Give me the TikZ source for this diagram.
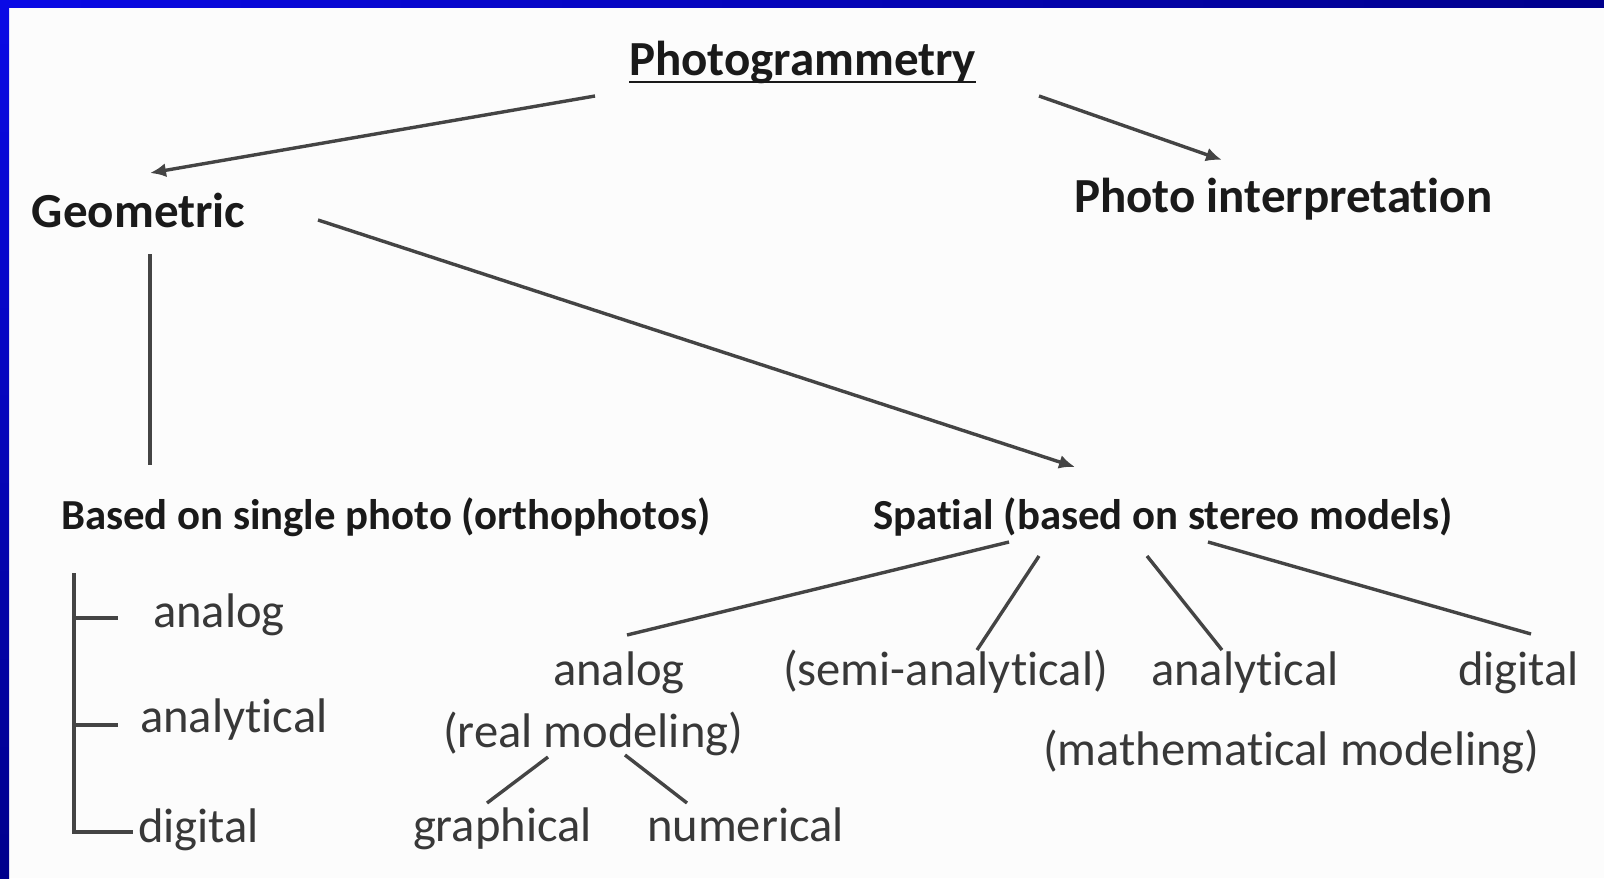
\documentclass[tikz,border=0pt]{standalone}
\usepackage{fontspec}
\setmainfont{Carlito}[Ligatures=NoCommon]
\usetikzlibrary{arrows.meta}
\definecolor{bg}{HTML}{FCFCFC}
\definecolor{bblue}{HTML}{0A0AE6}
\definecolor{nblue}{HTML}{00008C}
\definecolor{tdark}{HTML}{1A1A1A}
\definecolor{tgrey}{HTML}{383838}
\definecolor{lgrey}{HTML}{444444}
\tikzset{
  lbl/.style={anchor=base west, inner sep=0pt, outer sep=0pt},
  topl/.style={lbl, text=tdark, font=\fontsize{24.5}{28}\selectfont\bfseries},
  subl/.style={lbl, text=tdark, font=\fontsize{21.4}{24}\selectfont\bfseries},
  item/.style={lbl, text=tgrey, font=\fontsize{24.3}{28}\selectfont},
  conn/.style={draw=lgrey, line width=1.7pt},
  arr/.style={conn, -{Latex[length=8pt,width=7pt]}},
}
\begin{document}
\begin{tikzpicture}[x=0.5pt,y=-0.5pt]
\useasboundingbox (0,0) rectangle (1604,878);
\fill[bg] (0,0) rectangle (1604,878);
\shade[top color=bblue, bottom color=nblue] (0,0) rectangle (9,878);
\shade[left color=bblue, right color=nblue] (0,0) rectangle (1604,7);

\node[topl] (pg) at (629,75) {Photogrammetry};
\node[topl] (geo) at (32,227) {Geometric};
\node[topl] (pi) at (1074,212) {Photo interpretation};
\node[subl] (single) at (61,529) {Based on single photo (orthophotos)};
\node[subl] (spat) at (873,529) {Spatial (based on stereo models)};
\node[item] (la) at (153,627) {analog};
\node[item] (lan) at (140,732) {analytical};
\node[item] (ld) at (138,842) {digital};
\node[item] (ra) at (553,685) {analog};
\node[item] (rm) at (443,747) {(real modeling)};
\node[item] (semi) at (783,685) {(semi-analytical)};
\node[item] (ran) at (1151,685) {analytical};
\node[item] (rd) at (1458,685) {digital};
\node[item] (mm) at (1043,765) {(mathematical modeling)};
\node[item] (gr) at (413,841) {graphical};
\node[item] (nu) at (647,841) {numerical};

% underline of title
\draw[draw=tdark, line width=1.3pt] ([shift={(0,7)}]pg.base west) -- ([shift={(0,7)}]pg.base east);

% arrows
\draw[arr] ([shift={(-34,21)}]pg.base west) -- ([shift={(118,-54)}]geo.base west);
\draw[arr] ([shift={(410,21)}]pg.base west) -- ([shift={(148,-52)}]pi.base west);
\draw[arr] ([shift={(286,-7)}]geo.base west) -- ([shift={(202,-62)}]spat.base west);
\draw[conn] ([shift={(118,27)}]geo.base west) -- ([shift={(89,-64)}]single.base west);

% bracket
\draw[conn] ([shift={(13,44)}]single.base west) -- ([shift={(-64,-10)}]ld.base west) -- ([shift={(-5,-10)}]ld.base west);
\draw[conn] ([shift={(-79,-9)}]la.base west) -- ([shift={(-35,-9)}]la.base west);
\draw[conn] ([shift={(-66,-7)}]lan.base west) -- ([shift={(-22,-7)}]lan.base west);

% spatial branches
\draw[conn] ([shift={(136,13)}]spat.base west) -- ([shift={(74,-50)}]ra.base west);
\draw[conn] ([shift={(166,27)}]spat.base west) -- ([shift={(194,-35)}]semi.base west);
\draw[conn] ([shift={(274,27)}]spat.base west) -- ([shift={(71,-35)}]ran.base west);
\draw[conn] ([shift={(335,13)}]spat.base west) -- ([shift={(73,-51)}]rd.base west);

% real modeling branches
\draw[conn] ([shift={(105,10)}]rm.base west) -- ([shift={(74,-38)}]gr.base west);
\draw[conn] ([shift={(182,8)}]rm.base west) -- ([shift={(40,-38)}]nu.base west);
\end{tikzpicture}
\end{document}
